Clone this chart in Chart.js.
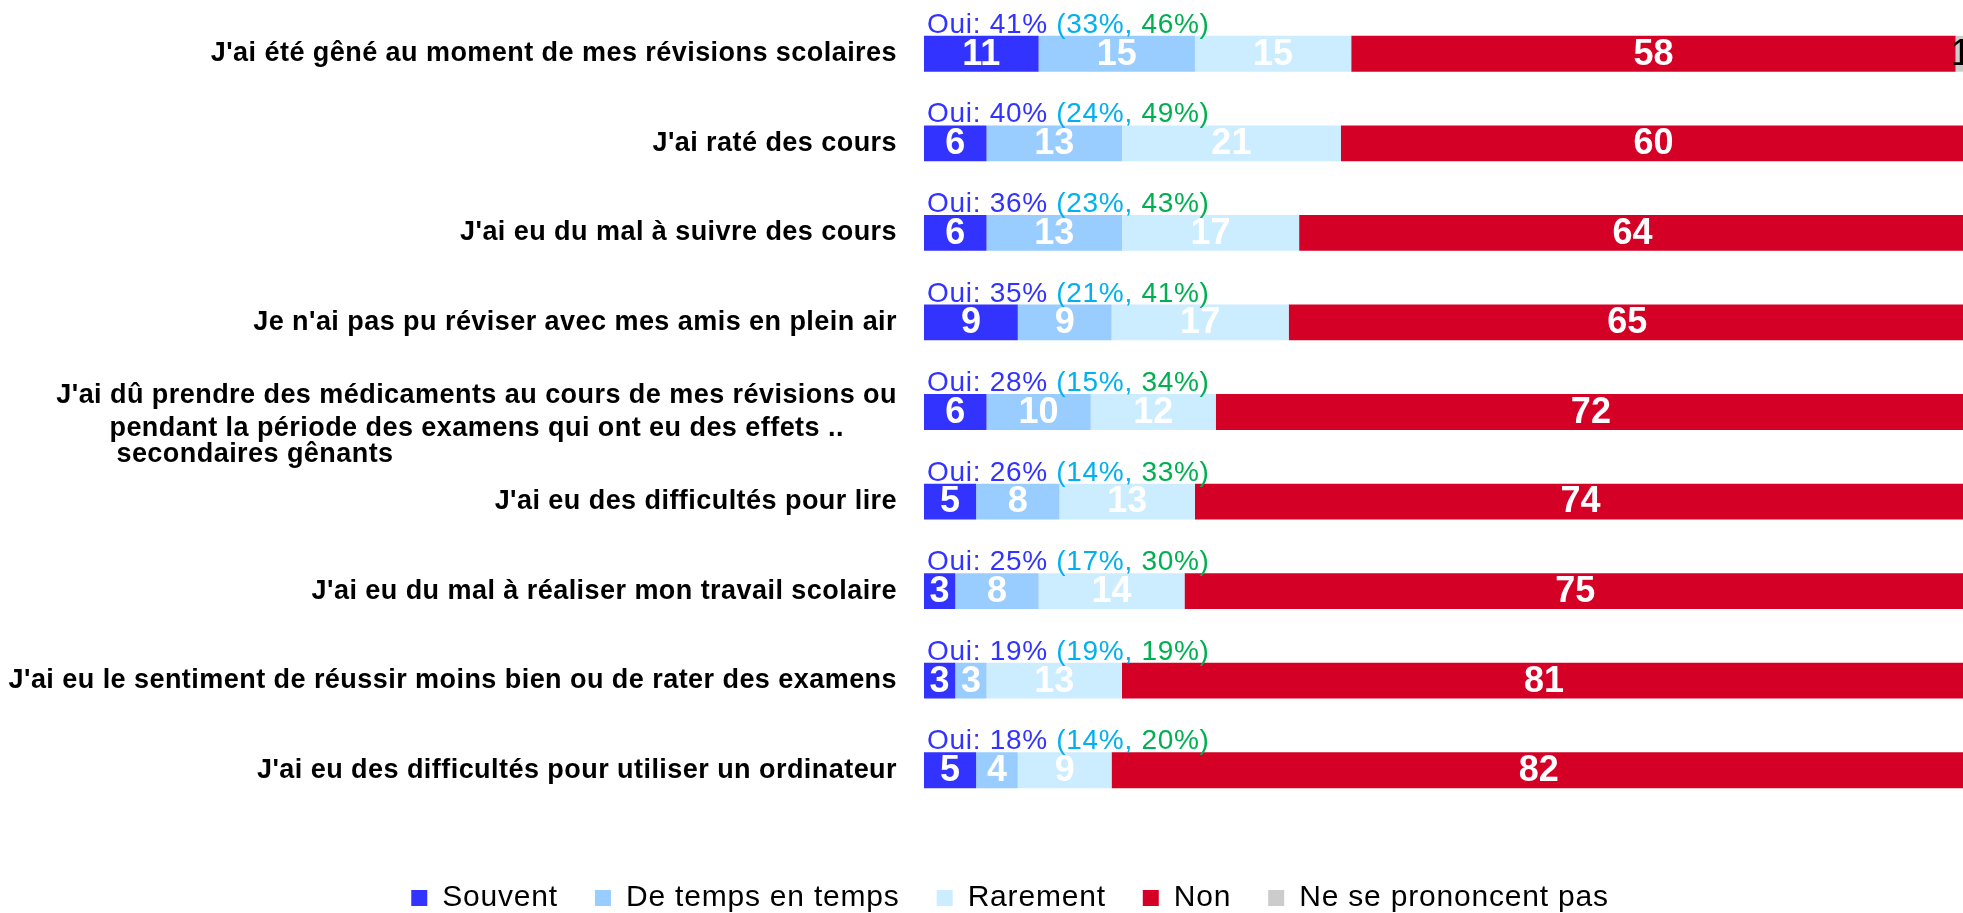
<!DOCTYPE html>
<html>
<head>
<meta charset="utf-8">
<script src="https://cdn.jsdelivr.net/npm/chart.js@4.4.1/dist/chart.umd.min.js"></script>
<style>
html, body { margin: 0; padding: 0; overflow: hidden; background: #fff; }
canvas { display: block; }
</style>
</head>
<body>
<canvas id="chart" width="1966" height="923"></canvas>
<script>
const categories = [
	"J'ai été gêné au moment de mes révisions scolaires",
	"J'ai raté des cours",
	"J'ai eu du mal à suivre des cours",
	"Je n'ai pas pu réviser avec mes amis en plein air",
	["J'ai dû prendre des médicaments au cours de mes révisions ou",
		"pendant la période des examens qui ont eu des effets ..",
		"secondaires gênants"],
	"J'ai eu des difficultés pour lire",
	"J'ai eu du mal à réaliser mon travail scolaire",
	"J'ai eu le sentiment de réussir moins bien ou de rater des examens",
	"J'ai eu des difficultés pour utiliser un ordinateur"
];

const seriesNames = ["Souvent", "De temps en temps", "Rarement", "Non", "Ne se prononcent pas"];
const souvent = [11, 6, 6, 9, 6, 5, 3, 3, 5];
const deTempsEnTemps = [15, 13, 13, 9, 10, 8, 8, 3, 4];
const rarement = [15, 21, 17, 17, 12, 13, 14, 13, 9];
const non = [58, 60, 64, 65, 72, 74, 75, 81, 82];
const nsp = [1, 0, 0, 0, 0, 0, 0, 0, 0];

// "Oui" total with its two sub-group values shown above each bar
const ouiTotal = [41, 40, 36, 35, 28, 26, 25, 19, 18];
const ouiLow = [33, 24, 23, 21, 15, 14, 17, 19, 14];
const ouiHigh = [46, 49, 43, 41, 34, 33, 30, 19, 20];

const colors = ["#3333FF", "#99CCFF", "#CCECFF", "#D50025", "#CCCCCC"];
const FONT = "'Liberation Sans', Arial, sans-serif";

Chart.defaults.font.family = FONT;

const spacingPlugin = {
	id: "spacing",
	beforeUpdate: (chart) => {
		chart.ctx.letterSpacing = "0.8px";
	}
};

const rowLabels = {
	id: "rowLabels",
	afterDatasetsDraw: (chart) => {
		const ctx = chart.ctx;
		const y = chart.scales.y;
		const right = chart.chartArea.left - 27;

		ctx.save();
		ctx.font = "bold 27px " + FONT;
		ctx.letterSpacing = "0.45px";
		ctx.fillStyle = "#000";
		ctx.textBaseline = "middle";
		categories.forEach((label, i) => {
			const yc = y.getPixelForValue(i);
			if (Array.isArray(label)) {
				// wrapped like the original: two centred lines, last one left aligned
				const mid = right - ctx.measureText(label[0]).width / 2;
				const w1 = ctx.measureText(label[1]).width;
				ctx.textAlign = "center";
				ctx.fillText(label[0], mid, yc - 16);
				ctx.fillText(label[1], mid, yc + 17);
				ctx.textAlign = "left";
				ctx.fillText(label[2], mid - w1 / 2 + 7, yc + 43);
			} else {
				ctx.textAlign = "right";
				ctx.fillText(label, right, yc);
			}
		});
		ctx.restore();
	}
};

const ouiLabels = {
	id: "ouiLabels",
	afterDatasetsDraw: (chart) => {
		const ctx = chart.ctx;
		const bars = chart.getDatasetMeta(0).data;

		ctx.save();
		ctx.font = "28px " + FONT;
		ctx.letterSpacing = "0.7px";
		ctx.textAlign = "left";
		ctx.textBaseline = "alphabetic";
		bars.forEach((bar, i) => {
			const parts = [
				[`Oui: ${ouiTotal[i]}% `, "#3333FF"],
				[`(${ouiLow[i]}%, `, "#00B0F0"],
				[`${ouiHigh[i]}%)`, "#00B050"]
			];
			let x = chart.chartArea.left + 3;
			const yb = bar.y - bar.height / 2 - 3;
			parts.forEach(([text, color]) => {
				ctx.fillStyle = color;
				ctx.fillText(text, x, yb);
				x += ctx.measureText(text).width;
			});
		});
		ctx.restore();
	}
};

const valueLabels = {
	id: "valueLabels",
	afterDatasetsDraw: (chart) => {
		const ctx = chart.ctx;

		ctx.save();
		ctx.letterSpacing = "0px";
		ctx.textAlign = "center";
		ctx.textBaseline = "middle";
		chart.data.datasets.forEach((ds, d) => {
			const last = d === chart.data.datasets.length - 1;
			ctx.font = (last ? "" : "bold ") + "36px " + FONT;
			ctx.fillStyle = last ? "#000" : "#fff";
			chart.getDatasetMeta(d).data.forEach((bar, i) => {
				if (!ds.data[i]) return;
				ctx.fillText(String(ds.data[i]), (bar.x + bar.base) / 2, bar.y + 1);
			});
		});
		ctx.restore();
	}
};

const values = [souvent, deTempsEnTemps, rarement, non, nsp];

new Chart(document.getElementById("chart").getContext("2d"), {
	type: "bar",
	data: {
		labels: categories,
		datasets: seriesNames.map((name, i) => ({
			label: name,
			data: values[i],
			backgroundColor: colors[i],
			borderWidth: 0,
			barPercentage: 0.4,
			categoryPercentage: 1
		}))
	},
	options: {
		indexAxis: "y",
		responsive: false,
		animation: false,
		layout: {
			padding: { top: 9, left: 54, right: 0, bottom: 0 }
		},
		scales: {
			x: {
				stacked: true,
				min: 0,
				max: 100,
				grid: { display: false },
				border: { display: false },
				ticks: { display: false },
				afterFit: (scale) => { scale.height = 31; }
			},
			y: {
				stacked: true,
				grid: { display: false },
				border: { display: false },
				ticks: { display: false },
				afterFit: (scale) => { scale.width = 870; }
			}
		},
		plugins: {
			legend: {
				position: "bottom",
				labels: {
					color: "#000",
					font: { size: 30 },
					boxWidth: 16,
					boxHeight: 16,
					padding: 37
				}
			},
			tooltip: { enabled: false }
		}
	},
	plugins: [spacingPlugin, rowLabels, ouiLabels, valueLabels]
});
</script>
</body>
</html>
